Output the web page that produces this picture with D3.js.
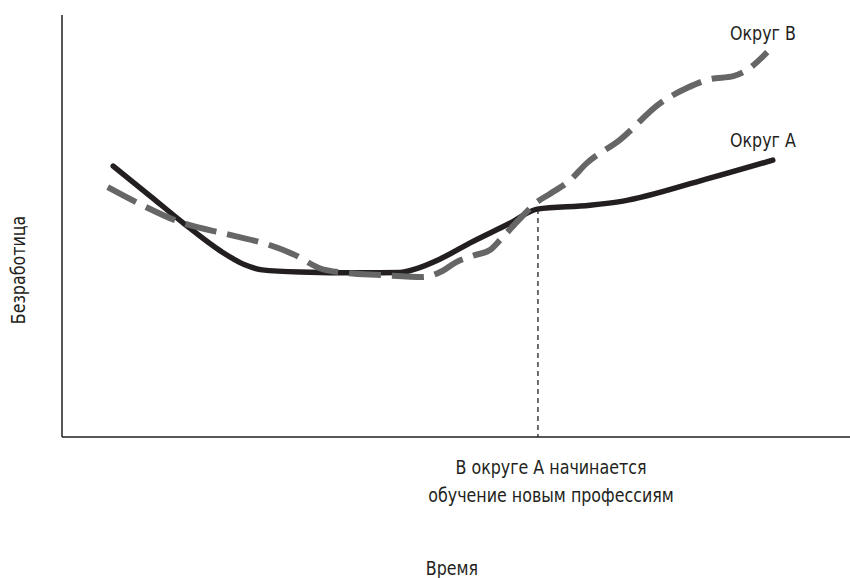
<!DOCTYPE html>
<html><head><meta charset="utf-8">
<script src="https://cdn.jsdelivr.net/npm/d3@7/dist/d3.min.js"></script>
<style>
html,body{margin:0;padding:0;background:#fff;}
text{font-family:"DejaVu Sans Condensed","DejaVu Sans",sans-serif;fill:#231f20;}
</style></head>
<body>
<svg id="chart" width="850" height="578"></svg>
<script>
// Time (0-100) and unemployment (0-100), arbitrary units
const timeA = [6.5,11.2,15.4,20.1,23.2,25.4,30.2,37.8,42.9,44.8,48.0,51.8,56.9,60.3,67.0,71.2,81.0,90.2];
const unempA = [64.2,57.1,50.7,44.1,40.8,39.6,39.1,38.9,39.0,39.8,42.2,46.0,50.7,54.0,54.9,55.9,60.7,65.6];
const timeB = [5.8,9.9,15.0,21.3,26.0,29.6,32.7,35.9,40.4,45.8,48.0,50.1,52.4,54.3,55.6,57.7,60.3,61.9,64.5,66.6,70.8,75.9,79.3,82.2,85.2,86.7,89.5];
const unempB = [59.2,55.2,50.9,47.9,45.7,43.1,40.0,38.9,38.4,37.9,39.1,41.5,43.1,44.3,46.7,50.9,55.7,57.6,60.9,64.9,70.4,79.1,82.7,84.8,85.5,86.7,91.2];
const seriesNames = ["Округ A","Округ B"];
const eventTime = 60.4;
const eventLevel = 54.0;
const eventLabel = ["В округе А начинается","обучение новым профессиям"];
const xTitle = "Время";
const yTitle = "Безработица";

const svg = d3.select("#chart");
const x = d3.scaleLinear().domain([0,100]).range([62,850]);
const y = d3.scaleLinear().domain([0,100]).range([437,15]);
const SX = 0.93;

// axes (no ticks)
svg.append("line").attr("x1",x(0)).attr("x2",x(0)).attr("y1",y(100)).attr("y2",y(0))
  .attr("stroke","#231f20").attr("stroke-width",1.5);
svg.append("line").attr("x1",x(0)).attr("x2",x(100)).attr("y1",y(0)).attr("y2",y(0))
  .attr("stroke","#231f20").attr("stroke-width",1.5);

// event line
svg.append("line").attr("x1",x(eventTime)).attr("x2",x(eventTime))
  .attr("y1",y(eventLevel)).attr("y2",y(0))
  .attr("stroke","#231f20").attr("stroke-width",1.3).attr("stroke-dasharray","5,4");

const line = d3.line().x(d=>x(d[0])).y(d=>y(d[1])).curve(d3.curveMonotoneX);
const dataA = timeA.map((t,i)=>[t,unempA[i]]);
const dataB = timeB.map((t,i)=>[t,unempB[i]]);

svg.append("path").attr("d",line(dataA)).attr("fill","none")
  .attr("stroke","#231f20").attr("stroke-width",5.5).attr("stroke-linecap","round").attr("stroke-linejoin","round");
svg.append("path").attr("d",line(dataB)).attr("fill","none")
  .attr("stroke","#666666").attr("stroke-width",6).attr("stroke-dasharray","32,11");

function label(tx,ty,txt,anchor,size,rot){
  svg.append("text")
    .attr("transform",`translate(${tx},${ty})${rot?` rotate(${rot})`:""} scale(${SX},1)`)
    .attr("text-anchor",anchor).attr("font-size",size).text(txt);
}

// series labels
label(730,40,seriesNames[1],"start",19);
label(730,147,seriesNames[0],"start",19);

// event label
eventLabel.forEach((t,i)=> label(551,474+i*28,t,"middle",19));

label(452,575,xTitle,"middle",19);
label(25,270,yTitle,"middle",19,-90);
</script>
</body></html>
